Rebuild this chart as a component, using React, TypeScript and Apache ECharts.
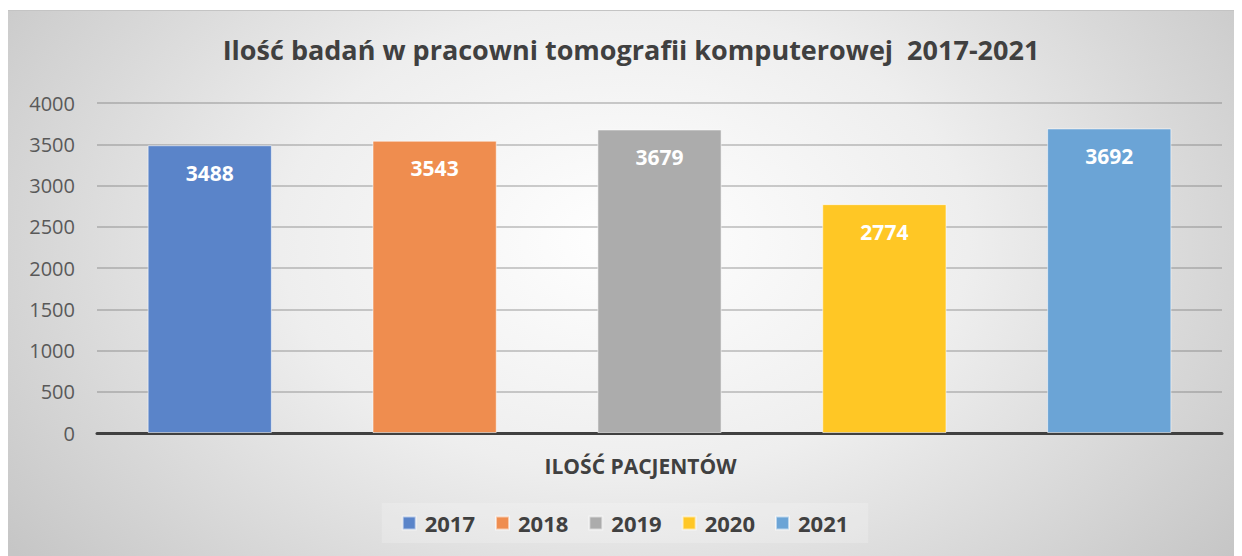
import React, { useEffect, useRef } from "react";
import * as echarts from "echarts";

const categories = ["ILOŚĆ PACJENTÓW"];
const years = ["2017", "2018", "2019", "2020", "2021"];
const values = [3488, 3543, 3679, 2774, 3692];
const colors = ["#5a84c9", "#ef8d4f", "#acacac", "#ffc725", "#6ba4d6"];
const yTicks = { min: 0, max: 4000, interval: 500 };
const titleText = "Ilość badań w pracowni tomografii komputerowej  2017-2021";

export default function App() {
  const ref = useRef<HTMLDivElement>(null);
  useEffect(() => {
    if (!ref.current) return;
    const chart = echarts.init(ref.current, undefined, { renderer: "svg" });
    const font = "'Open Sans', 'Noto Sans', sans-serif";
    chart.setOption({
      animation: false,
      textStyle: { fontFamily: font },
      title: {
        text: titleText,
        left: 618,
        textAlign: "center",
        top: 20,
        textStyle: { fontSize: 27, fontWeight: "bold", color: "#404040", fontFamily: font },
      },
      legend: {
        data: years,
        bottom: 13,
        left: "center",
        itemWidth: 13,
        itemHeight: 13,
        itemGap: 20,
        icon: "rect",
        padding: [9, 20, 9, 20],
        backgroundColor: "rgba(255,255,255,0.2)",
        textStyle: { fontSize: 22, fontWeight: "bold", color: "#404040", fontFamily: font, padding: [0, 0, 0, 4] },
      },
      grid: { left: 89, right: 20, top: 92, bottom: 123, containLabel: false },
      xAxis: {
        type: "category",
        data: categories,
        axisLabel: { show: false },
        axisTick: { show: false },
        axisLine: { lineStyle: { color: "#404040", width: 3 } },
        name: categories[0],
        nameLocation: "middle",
        nameGap: 22,
        nameTextStyle: { fontSize: 21, fontWeight: "bold", color: "#404040", fontFamily: font, padding: [0, 38, 0, 0] },
      },
      yAxis: {
        type: "value",
        min: yTicks.min,
        max: yTicks.max,
        interval: yTicks.interval,
        axisLine: { show: false },
        axisTick: { show: false },
        axisLabel: { fontSize: 20, color: "#595959", margin: 22, fontFamily: font, formatter: (v: number) => String(v) },
        splitLine: { lineStyle: { color: "rgba(110,110,110,0.45)", width: 1.5 } },
      },
      series: years.map((y, i) => ({
        name: y,
        type: "bar",
        data: [values[i]],
        barGap: "81%",
        barCategoryGap: "9%",
        itemStyle: { color: colors[i], borderColor: "rgba(255,255,255,0.55)", borderWidth: 1 },
        label: {
          show: true,
          position: "insideTop",
          distance: 17,
          color: "#ffffff",
          fontSize: 21,
          fontWeight: "bold",
          fontFamily: font,
        },
      })),
    });
    return () => chart.dispose();
  }, []);
  return (
    <div style={{ paddingTop: 2 }}>
      <div
        style={{
          width: 1234,
          height: 545,
          borderTop: "1px solid #c4c4c4",
          background: "radial-gradient(ellipse 62% 95% at 50% 42%, #ffffff 0%, #eeeeee 45%, #c6c6c6 100%)",
        }}
      >
        <div ref={ref} style={{ width: 1234, height: 545 }} />
      </div>
    </div>
  );
}
